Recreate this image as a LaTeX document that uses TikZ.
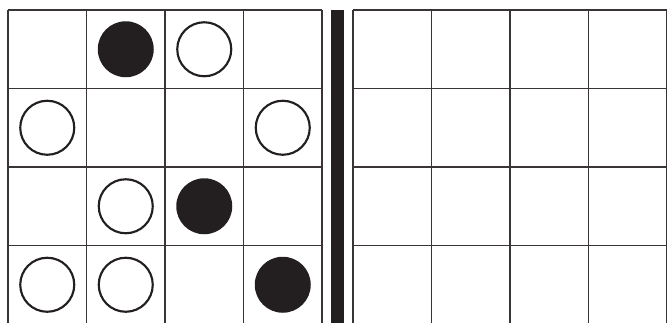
\documentclass[tikz,border=0pt]{standalone}
\usetikzlibrary{positioning}
\definecolor{ink}{RGB}{35,31,32}

\begin{document}
\begin{tikzpicture}[
    x=0.75pt, y=-0.75pt,
    gridline/.style={draw=ink!90, line width=0.9pt},
    bar/.style={fill=ink, draw=none},
    whitestone/.style={circle, draw=ink, line width=1.6pt, fill=white, minimum size=40.5pt, inner sep=0pt},
    blackstone/.style={circle, fill=ink, draw=none, minimum size=42pt, inner sep=0pt}
]

\path[use as bounding box] (0,0) rectangle (667,322);
\clip (0,0) rectangle (667,322);

% Left board
\foreach \i in {0,...,4} {
    \draw[gridline] (8+78.5*\i,10) -- (8+78.5*\i,340);
    \draw[gridline] (8,10+78.5*\i) -- (322,10+78.5*\i);
}

% Divider
\node[bar, minimum width=9.75pt, minimum height=250pt, anchor=north west, inner sep=0pt] (divider) at (331,10) {};

% Right board
\foreach \i in {0,...,4} {
    \draw[gridline] (353+78.5*\i,10) -- (353+78.5*\i,340);
    \draw[gridline] (353,10+78.5*\i) -- (680,10+78.5*\i);
}

% Stones (row/column)
\foreach \r/\c in {1/2, 3/3, 4/4}
    \node[blackstone] (b\r\c) at (8+78.5*\c-39.25, 10+78.5*\r-39.25) {};
\foreach \r/\c in {1/3, 2/1, 2/4, 3/2, 4/1, 4/2}
    \node[whitestone] (w\r\c) at (8+78.5*\c-39.25, 10+78.5*\r-39.25) {};

\end{tikzpicture}
\end{document}
